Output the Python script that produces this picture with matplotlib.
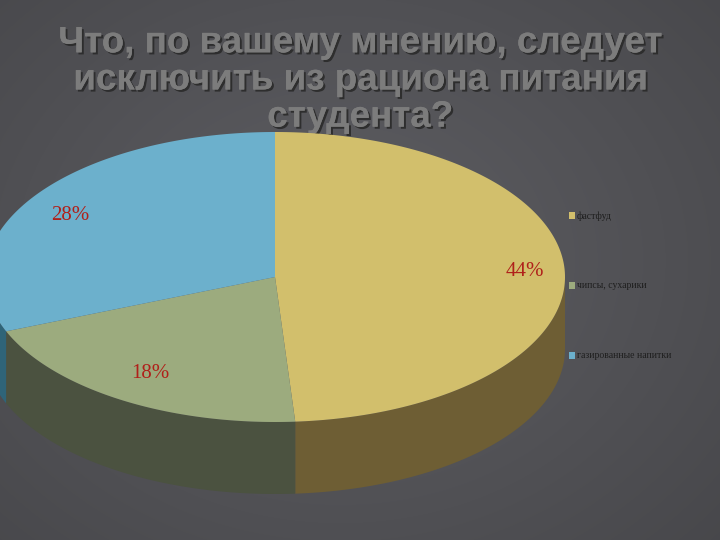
import numpy as np
import matplotlib.pyplot as plt
import matplotlib.patheffects as pe
from matplotlib.patches import Polygon, Rectangle

labels = ["фастфуд", "чипсы, сухарики", "газированные напитки"]
values = [44, 18, 28]
pct_text = ["44%", "18%", "28%"]
top_colors = ["#d2bf6c", "#9cab7e", "#6cb0cc"]
side_colors = ["#6e5e34", "#4b5240", "#2f6478"]

cx, cy, rx, ry, depth = 275, 277, 290, 145, 72

fig = plt.figure(figsize=(7.2, 5.4), dpi=100)
ax = fig.add_axes([0, 0, 1, 1])
ax.set_xlim(0, 720)
ax.set_ylim(540, 0)
ax.axis("off")

# background gradient
yy, xx = np.mgrid[0:540, 0:720]
d = np.sqrt(((xx - 340) / 520) ** 2 + ((yy - 260) / 420) ** 2)
g = np.clip(0.37 - 0.09 * d, 0, 1)
ax.imshow(np.dstack([g, g, g * 1.05]), extent=[0, 720, 540, 0], zorder=0)

title = "Что, по вашему мнению, следует\nисключить из рациона питания\nстудента?"
ax.text(360, 80, title, ha="center", va="center", fontsize=26.5, fontweight="bold",
        family="Liberation Sans", color="#7c7c7c", linespacing=1.08, zorder=1,
        path_effects=[pe.withSimplePatchShadow(offset=(1.5, -1.5), shadow_rgbFace="#2a2a2a", alpha=0.9),
                      pe.Normal()])


def pt(t, dy=0):
    return cx + rx * np.cos(t), cy - ry * np.sin(t) + dy


angles = 90 - np.cumsum([0] + values) / sum(values) * 360
for i in range(len(values)):
    a0, a1 = np.radians(angles[i]), np.radians(angles[i + 1])
    t = np.linspace(a0, a1, 300)
    front = t[np.sin(t) <= 0]
    if len(front) > 1:
        x, y = pt(front)
        xb, yb = pt(front[::-1], depth)
        ax.add_patch(Polygon(np.column_stack([np.r_[x, xb], np.r_[y, yb]]),
                             facecolor=side_colors[i], edgecolor="none", zorder=2))
    x, y = pt(t)
    ax.add_patch(Polygon(np.column_stack([np.r_[cx, x], np.r_[cy, y]]),
                         facecolor=top_colors[i], edgecolor="none", zorder=3))

label_pos = [(525, 272), (150, 373), (70, 215)]
for (lx, ly), s in zip(label_pos, pct_text):
    ax.text(lx, ly, s, ha="center", va="center", fontsize=15,
            family="Liberation Serif", color="#b0201a", zorder=4)

for i, lab in enumerate(labels):
    ly = 216 + i * 70
    ax.add_patch(Rectangle((569, ly - 4), 6, 7, facecolor=top_colors[i], zorder=4))
    ax.text(577, ly, lab, va="center", fontsize=7, family="Liberation Serif",
            color="#1e1e1e", zorder=4)

fig.savefig("out.png", dpi=100)
